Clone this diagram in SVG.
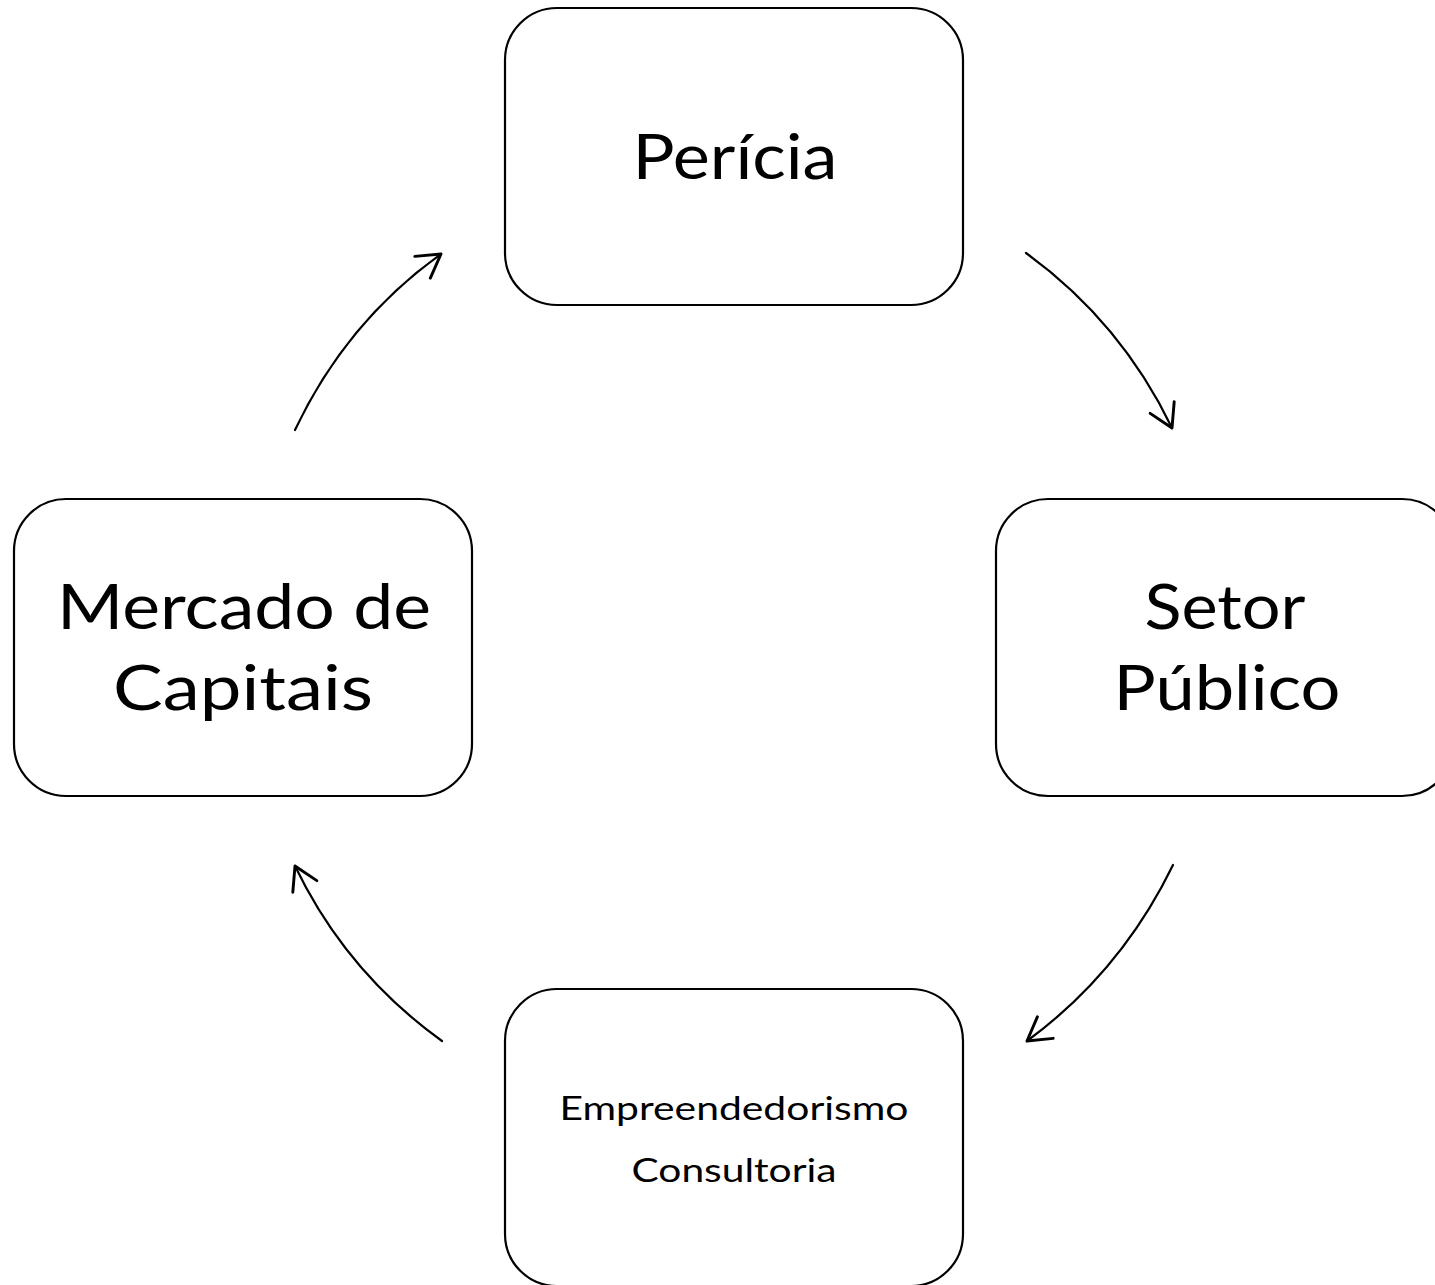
<svg xmlns="http://www.w3.org/2000/svg" width="1435" height="1285" viewBox="0 0 1435 1285">
<defs>
<style>
.box{fill:#fff;stroke:#000;stroke-width:2.2}
.big{font-family:"Lato","Open Sans","DejaVu Sans",sans-serif;font-weight:400;font-size:62px;fill:#000;text-anchor:middle}
.small{font-family:"Lato","Open Sans","DejaVu Sans",sans-serif;font-weight:400;font-size:33px;fill:#000;text-anchor:middle}
.conn{fill:none;stroke:#000;stroke-width:2.2;stroke-linecap:round}
</style>
<marker id="arrow" markerUnits="userSpaceOnUse" markerWidth="40" markerHeight="40" refX="0" refY="0" orient="auto" viewBox="-25 -15 30 30" overflow="visible">
<path d="M-17,-10 L0,0 L-17,10" fill="none" stroke="#000" stroke-width="2.2" stroke-linecap="round" stroke-linejoin="round"/>
</marker>
</defs>
<rect width="1435" height="1285" fill="#fff"/>
<g id="node-pericia">
<rect class="box" x="505" y="8" width="458" height="297" rx="52"/>
<text class="big" x="735" y="179" textLength="205" lengthAdjust="spacingAndGlyphs">Perícia</text>
</g>
<g id="node-mercado">
<rect class="box" x="14" y="499" width="458" height="297" rx="52"/>
<text class="big" x="244" y="629" textLength="374" lengthAdjust="spacingAndGlyphs">Mercado de</text>
<text class="big" x="243" y="710" textLength="260" lengthAdjust="spacingAndGlyphs">Capitais</text>
</g>
<g id="node-setor">
<rect class="box" x="996" y="499" width="458" height="297" rx="52"/>
<text class="big" x="1225" y="629" textLength="161" lengthAdjust="spacingAndGlyphs">Setor</text>
<text class="big" x="1227" y="710" textLength="227" lengthAdjust="spacingAndGlyphs">Público</text>
</g>
<g id="node-empreendedorismo">
<rect class="box" x="505" y="989" width="458" height="297" rx="52"/>
<text class="small" x="734" y="1120" textLength="349" lengthAdjust="spacingAndGlyphs">Empreendedorismo</text>
<text class="small" x="734" y="1182" textLength="205" lengthAdjust="spacingAndGlyphs">Consultoria</text>
</g>
<g id="connectors">
<path class="conn" d="M1026,253 Q1121,322 1172,428" marker-end="url(#arrow)"/>
<path class="conn" d="M1173,865 Q1121,972 1027,1041" marker-end="url(#arrow)"/>
<path class="conn" d="M442,1041 Q346,972 295,866" marker-end="url(#arrow)"/>
<path class="conn" d="M295,430 Q346,322 441,254" marker-end="url(#arrow)"/>
</g>
</svg>
